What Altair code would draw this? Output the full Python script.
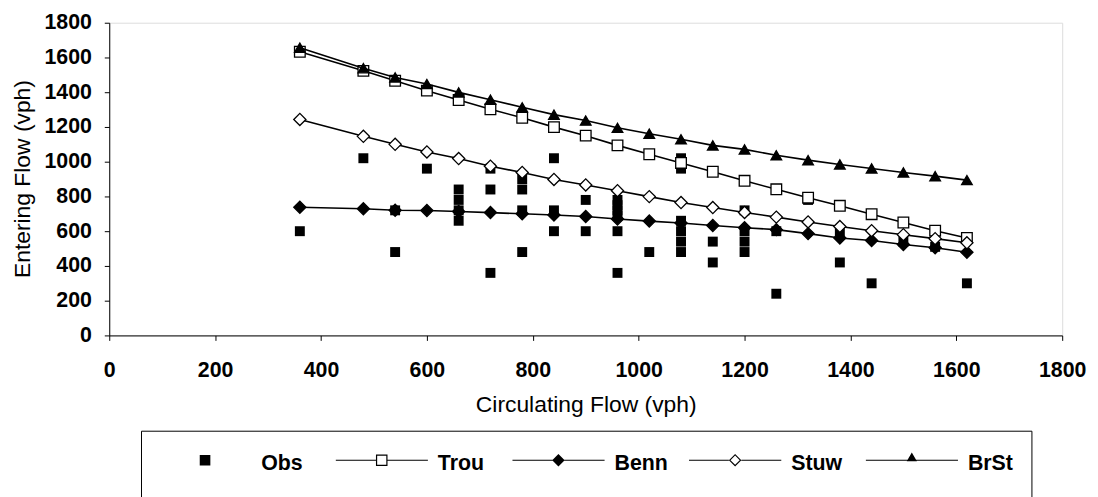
import altair as alt
import pandas as pd

# ---- data ----
circ = [360, 480, 540, 600, 660, 720, 780, 840, 900, 960, 1020,
        1080, 1140, 1200, 1260, 1320, 1380, 1440, 1500, 1560, 1620]
trou = [1633, 1523, 1466, 1409, 1355, 1302, 1253, 1199, 1150, 1094, 1043,
        993, 942, 890, 841, 793, 746, 698, 650, 603, 561]
benn = [738, 729, 721, 719, 713, 707, 700, 693, 685, 670, 658,
        647, 633, 620, 609, 586, 561, 546, 523, 505, 479]
stuw = [1243, 1146, 1100, 1056, 1018, 974, 938, 898, 866, 833, 799,
        765, 736, 708, 681, 653, 627, 603, 580, 557, 533]
brst = [1656, 1538, 1485, 1447, 1399, 1357, 1313, 1271, 1237, 1195, 1161,
        1129, 1094, 1071, 1037, 1009, 984, 961, 938, 917, 894]

obs_circ = [360, 480, 540, 540, 600,
            660, 660, 660, 660,
            720, 720, 720,
            780, 780, 780, 780,
            840, 840, 840,
            900, 900,
            960, 960, 960, 960, 960, 960,
            1020,
            1080, 1080, 1080, 1080, 1080, 1080,
            1140, 1140,
            1200, 1200, 1200, 1200,
            1260, 1260, 1320, 1380, 1380, 1440, 1500, 1560, 1620]
obs_entry = [600, 1020, 720, 480, 960,
             840, 780, 720, 660,
             960, 840, 360,
             900, 840, 720, 480,
             1020, 720, 600,
             780, 600,
             780, 750, 720, 690, 600, 360,
             480,
             1020, 960, 660, 600, 540, 480,
             540, 420,
             720, 600, 540, 480,
             600, 240, 780, 600, 420, 300, 540, 510, 300]

series_names = ["Obs", "Trou", "Benn", "Stuw", "BrSt"]

FONT = "Liberation Sans"

models = pd.DataFrame({"circ": circ, "Trou": trou, "Benn": benn, "Stuw": stuw, "BrSt": brst})
obs_df = pd.DataFrame({"circ": obs_circ, "entry": obs_entry})

x_scale = alt.Scale(domain=[0, 1800], nice=False, zero=False)
y_scale = alt.Scale(domain=[0, 1800], nice=False, zero=False)

x_axis = alt.Axis(values=list(range(0, 1801, 200)), format="d", title="Circulating Flow (vph)",
                  grid=False, tickSize=5, labelPadding=19, labelFontSize=21.5,
                  labelFontWeight="bold", labelFont=FONT, titleFont=FONT,
                  titleFontSize=23, titleFontWeight="normal", titleX=480, titleY=59,
                  domainColor="black", tickColor="black", labelColor="black",
                  titleColor="black", labelFlush=False)
y_axis = alt.Axis(values=list(range(0, 1801, 200)), format="d", title="Entering Flow (vph)",
                  grid=False, tickSize=5, labelPadding=13, labelFontSize=21.5,
                  labelFontWeight="bold", labelFont=FONT, titleFont=FONT,
                  titleFontSize=23, titleFontWeight="normal", titleX=-75, titleY=157,
                  domainColor="black", tickColor="black", labelColor="black",
                  titleColor="black", labelFlush=False)

X = alt.X("circ:Q", scale=x_scale, axis=x_axis)

obs_layer = alt.Chart(obs_df).mark_point(
    shape="square", filled=True, color="black", size=100, opacity=1
).encode(x=X, y=alt.Y("entry:Q", scale=y_scale, axis=y_axis))

marker_styles = {
    "Trou": dict(shape="square", fill="white", size=115),
    "Benn": dict(shape="diamond", fill="black", size=150),
    "Stuw": dict(shape="diamond", fill="white", size=150),
    "BrSt": dict(shape="triangle-up", fill="black", size=115),
}

layers = [obs_layer]
for name in ["Trou", "Benn", "Stuw", "BrSt"]:
    st = marker_styles[name]
    base = alt.Chart(models).encode(x=X, y=alt.Y(f"{name}:Q", scale=y_scale, axis=y_axis))
    layers.append(base.mark_line(color="black", strokeWidth=1.6))
    layers.append(base.mark_point(shape=st["shape"], filled=True, fill=st["fill"],
                                  stroke="black", strokeWidth=1.3, size=st["size"], opacity=1))

# legend-only layer (no rows drawn); each symbol is a filled path made of
# thin line bars plus the marker (open markers are rings, via reversed winding)
D = -0.21  # vertical shift of the symbol inside its legend row (units)


def rect(x0, x1, h, dy=D):
    return f"M{x0},{dy - h}H{x1}V{dy + h}H{x0}Z"


def rect_rev(x0, x1, h):
    return f"M{x0},{D - h}V{D + h}H{x1}V{D - h}Z"


def diamond(r):
    return f"M0,{D - r}L{r},{D}L0,{D + r}L{-r},{D}Z"


def diamond_rev(r):
    return f"M0,{D - r}L{-r},{D}L0,{D + r}L{r},{D}Z"


# tiny sub-path far below the row (outside the window): stretches the legend frame
PAD = rect(-0.005, 0.005, 0.005, dy=1.2)
LW = 0.013
legend_paths = [
    rect(-0.115, 0.115, 0.115) + PAD,
    rect(-1, -0.125, LW) + rect(0.125, 1, LW) + rect(-0.125, 0.125, 0.125)
    + rect_rev(-0.099, 0.099, 0.099) + PAD,
    rect(-1, 1, LW) + diamond(0.135) + PAD,
    rect(-1, -0.135, LW) + rect(0.135, 1, LW) + diamond(0.135) + diamond_rev(0.1) + PAD,
    rect(-1, 1, LW) + f"M0,{D - 0.17}L0.11,{D + 0.02}L-0.11,{D + 0.02}Z" + PAD,
]
legend_df = pd.DataFrame({"series": series_names,
                          "circ": [obs_circ[0], circ[0], circ[0], circ[0], circ[0]],
                          "entry": [obs_entry[0], trou[0], benn[0], stuw[0], brst[0]]})

leg = alt.Legend(title=None,
                 orient="none", legendX=32, legendY=411, direction="horizontal",
                 columns=5, gridAlign="all",
                 symbolSize=93 * 93, clipHeight=43, labelFont=FONT, labelFontSize=21.5,
                 labelFontWeight="bold", labelColor="black", labelOffset=10,
                 labelBaseline="alphabetic",
                 columnPadding=21, strokeColor="black", padding=18,
                 symbolFillColor="black", symbolStrokeWidth=0, symbolOpacity=1)

legend_layer = alt.Chart(legend_df).transform_filter("false").mark_point(
    filled=True, color="black", opacity=1
).encode(
    x=X,
    y=alt.Y("entry:Q", scale=y_scale, axis=y_axis),
    shape=alt.Shape("series:N", scale=alt.Scale(domain=series_names, range=legend_paths), legend=leg),
)
layers.append(legend_layer)

chart = alt.layer(*layers).properties(
    width=960, height=315,
    autosize=alt.AutoSizeParams(type="none"),
    padding={"left": 102, "top": 13, "right": 28, "bottom": 170},
).configure_view(stroke=None).configure(background="white")

chart.save("out.html", embed_options={"renderer": "svg", "actions": False})
